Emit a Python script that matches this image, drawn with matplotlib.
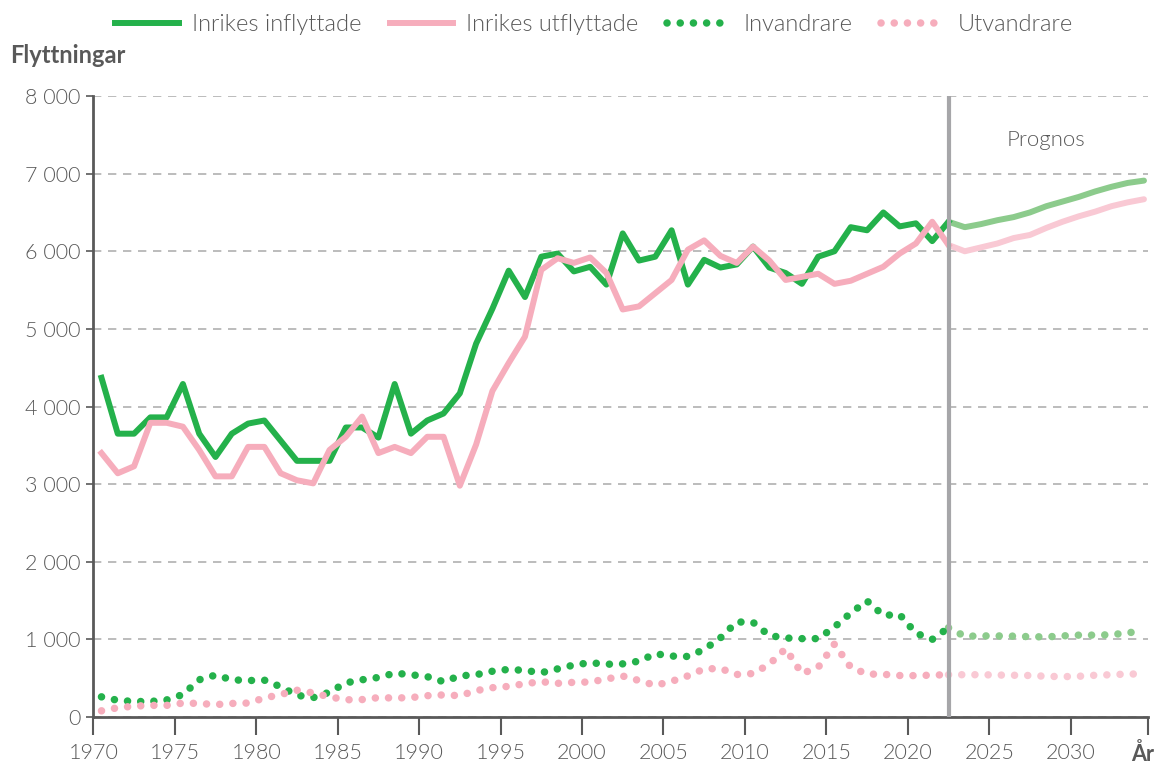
import numpy as np
import matplotlib
matplotlib.use("Agg")
import matplotlib.pyplot as plt
from matplotlib.ticker import FuncFormatter

plt.rcParams['font.family'] = ['Lato', 'DejaVu Sans']

# historik 1970-2022
years_hist = list(range(1970, 2023))
inflyttade = [4370, 3650, 3650, 3860, 3860, 4290, 3650, 3350, 3650, 3780,
              3820, 3560, 3300, 3300, 3300, 3730, 3730, 3600, 4290, 3650,
              3820, 3910, 4170, 4810, 5260, 5750, 5410, 5930, 5970, 5740,
              5800, 5570, 6230, 5880, 5930, 6270, 5570, 5890, 5790, 5830,
              6060, 5790, 5720, 5580, 5930, 6000, 6310, 6270, 6500, 6320,
              6360, 6130, 6380]
utflyttade = [3400, 3140, 3230, 3790, 3790, 3740, 3440, 3100, 3100, 3480,
              3480, 3140, 3050, 3010, 3440, 3610, 3870, 3400, 3480, 3400,
              3610, 3610, 2980, 3510, 4200, 4560, 4900, 5760, 5910, 5850,
              5920, 5720, 5250, 5290, 5460, 5630, 6020, 6140, 5940, 5850,
              6060, 5880, 5630, 5670, 5710, 5580, 5620, 5710, 5800, 5970,
              6100, 6380, 6080]
invandrare = [260, 215, 200, 200, 220, 290, 480, 540, 480, 470,
              475, 390, 280, 250, 320, 440, 480, 510, 565, 545,
              520, 455, 530, 545, 590, 614, 600, 571, 620, 670,
              700, 680, 685, 720, 815, 785, 780, 870, 1020, 1225,
              1220, 1050, 1018, 1010, 1010, 1160, 1340, 1495, 1310, 1320,
              1080, 1000, 1150]
utvandrare = [80, 120, 140, 150, 150, 180, 175, 160, 175, 180,
              245, 290, 345, 310, 260, 222, 225, 250, 245, 250,
              275, 285, 275, 340, 378, 395, 430, 455, 434, 447,
              451, 490, 528, 470, 408, 460, 530, 620, 625, 548,
              560, 680, 880, 560, 640, 940, 640, 554, 550, 535,
              533, 540, 545]

# prognos 2023-2034
years_prog = list(range(2023, 2035))
infl_prog = [6310, 6350, 6400, 6440, 6500, 6580, 6640, 6700, 6770, 6830, 6880, 6910]
utfl_prog = [6000, 6050, 6100, 6170, 6210, 6300, 6380, 6450, 6510, 6580, 6630, 6670]
inv_prog = [1040, 1045, 1045, 1042, 1035, 1032, 1045, 1055, 1055, 1060, 1085, 1110]
utv_prog = [545, 545, 541, 538, 535, 525, 520, 525, 538, 545, 554, 554]

green = '#24b14b'
pink = '#f6adbc'
green_l = '#8ccb8c'
pink_l = '#f9c9d4'
grey_txt = '#595959'
w_txt = 300

fig = plt.figure(figsize=(11.58, 7.71), dpi=100)
ax = fig.add_axes([0.0806, 0.070, 0.9108, 0.8055])

# punkterna ligger mitt i varje år
xh = np.array(years_hist) + 0.5
xp = np.concatenate([[years_hist[-1] + 0.5], np.array(years_prog) + 0.5])

dot = (0, (0.01, 1.75))
lw_solid = 4.3
lw_dot = 5.4

ax.plot(xp, [inflyttade[-1]] + infl_prog, color=green_l, lw=lw_solid, solid_capstyle='round', zorder=3)
ax.plot(xp, [utflyttade[-1]] + utfl_prog, color=pink_l, lw=lw_solid, solid_capstyle='round', zorder=3)
ax.plot(xp, [invandrare[-1]] + inv_prog, color=green_l, lw=lw_dot, ls=dot, dash_capstyle='round', zorder=3)
ax.plot(xp, [utvandrare[-1]] + utv_prog, color=pink_l, lw=lw_dot, ls=dot, dash_capstyle='round', zorder=3)

l1, = ax.plot(xh, inflyttade, color=green, lw=lw_solid, zorder=4, label='Inrikes inflyttade')
l2, = ax.plot(xh, utflyttade, color=pink, lw=lw_solid, zorder=4, label='Inrikes utflyttade')
l3, = ax.plot(xh, invandrare, color=green, lw=lw_dot, ls=dot, dash_capstyle='round', zorder=4, label='Invandrare')
l4, = ax.plot(xh, utvandrare, color=pink, lw=lw_dot, ls=dot, dash_capstyle='round', zorder=4, label='Utvandrare')

# prognosgräns
ax.axvline(years_hist[-1] + 0.5, color='#a6a6a9', lw=3, zorder=5)
ax.text(2028.5, 7430, 'Prognos', ha='center', va='center', fontsize=16,
        fontweight=w_txt, color=grey_txt)

xmax = 2034.75
ax.set_xlim(1970, xmax)
ax.set_ylim(0, 8000)
ax.set_yticks(range(0, 8001, 1000))
ax.yaxis.set_major_formatter(FuncFormatter(lambda v, p: f'{int(v):,}'.replace(',', ' ')))
ax.set_xticks(list(range(1970, 2031, 5)) + [xmax])
ax.set_xticklabels([str(y) for y in range(1970, 2031, 5)] + [''])
for t in ax.get_xticklabels() + ax.get_yticklabels():
    t.set_fontweight(w_txt)

# axeltitel för x, på sista ticken
ax.annotate('År', xy=(xmax, 0), xycoords=('data', 'axes fraction'),
            xytext=(-4, -19), textcoords='offset points', ha='center', va='top',
            fontsize=15.5, fontweight='bold', color=grey_txt, annotation_clip=False)

ax.grid(axis='y', color='#b0b0b0', ls=(0, (5, 4)), lw=1.2, zorder=0)
for s in ['top', 'right']:
    ax.spines[s].set_visible(False)
for s in ['left', 'bottom']:
    ax.spines[s].set_color('#595959')
    ax.spines[s].set_linewidth(2)
ax.tick_params(axis='x', direction='out', length=13, width=1.5, color='#595959',
               labelsize=15.5, labelcolor=grey_txt, pad=6)
ax.tick_params(axis='y', direction='out', length=5, width=1.2, color='#595959',
               labelsize=15.5, labelcolor=grey_txt, pad=4)

fig.text(0.009, 0.928, 'Flyttningar', fontsize=17, fontweight='bold', color=grey_txt,
         ha='left', va='center')

leg = fig.legend(handles=[l1, l2, l3, l4], loc='center', bbox_to_anchor=(0.513, 0.968), ncol=4,
                 frameon=False, fontsize=17, handlelength=2.7, handletextpad=0.55,
                 columnspacing=1.2, labelcolor=grey_txt)
for t in leg.get_texts():
    t.set_fontweight(w_txt)

fig.savefig('out.png', dpi=100)
